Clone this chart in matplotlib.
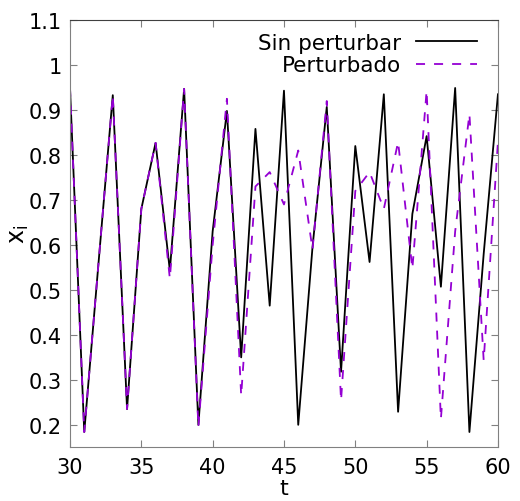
import numpy as np
import matplotlib
matplotlib.use("Agg")
import matplotlib.pyplot as plt

# Serie temporal t = 30..60
t = np.arange(30, 61)

sin_perturbar = [0.95, 0.184, 0.56, 0.933, 0.235, 0.68, 0.827, 0.543, 0.947, 0.20,
                 0.63, 0.898, 0.35, 0.858, 0.465, 0.943, 0.20, 0.595, 0.907, 0.318,
                 0.82, 0.562, 0.935, 0.229, 0.669, 0.842, 0.507, 0.949, 0.184, 0.58,
                 0.935]

perturbado = [0.95, 0.184, 0.56, 0.933, 0.235, 0.68, 0.827, 0.525, 0.947, 0.195,
              0.60, 0.925, 0.265, 0.73, 0.762, 0.69, 0.81, 0.59, 0.92, 0.254,
              0.72, 0.762, 0.68, 0.829, 0.547, 0.943, 0.213, 0.63, 0.891, 0.343,
              0.83]

yticks = [0.2, 0.3, 0.4, 0.5, 0.6, 0.7, 0.8, 0.9, 1.0, 1.1]
yticklabels = ["0.2", "0.3", "0.4", "0.5", "0.6", "0.7", "0.8", "0.9", "1", "1.1"]
xticks = [30, 35, 40, 45, 50, 55, 60]

fig = plt.figure(figsize=(5.2, 5.02), dpi=100)
ax = fig.add_axes([0.1346, 0.107, 0.823, 0.851])

ax.plot(t, sin_perturbar, color="black", lw=1.3, label="Sin perturbar")
ax.plot(t, perturbado, color="#9400D3", lw=1.3, ls=(0, (5, 5)), label="Perturbado")

ax.set_xlim(30, 60)
ax.set_ylim(0.15, 1.1)
ax.set_xticks(xticks)
ax.set_yticks(yticks)
ax.set_yticklabels(yticklabels)
ax.tick_params(direction="in", length=5, labelsize=15, color="#808080",
               top=True, right=True)
ax.tick_params(axis="x", pad=7)
ax.tick_params(axis="y", pad=6)
for s in ax.spines.values():
    s.set_color("#808080")
ax.spines["top"].set_color("#404040")

ax.set_xlabel("t", fontsize=16, labelpad=1)
ax.set_ylabel("$\\mathregular{x_i}$", fontsize=17, labelpad=-2)

leg = ax.legend(loc="upper right", frameon=False, fontsize=15.5, markerfirst=False,
                handlelength=2.8, handletextpad=0.7, labelspacing=0.1,
                borderaxespad=0.0, bbox_to_anchor=(0.97, 0.99))
for txt in leg.get_texts():
    txt.set_ha("right")

fig.savefig("out.png", dpi=100)
